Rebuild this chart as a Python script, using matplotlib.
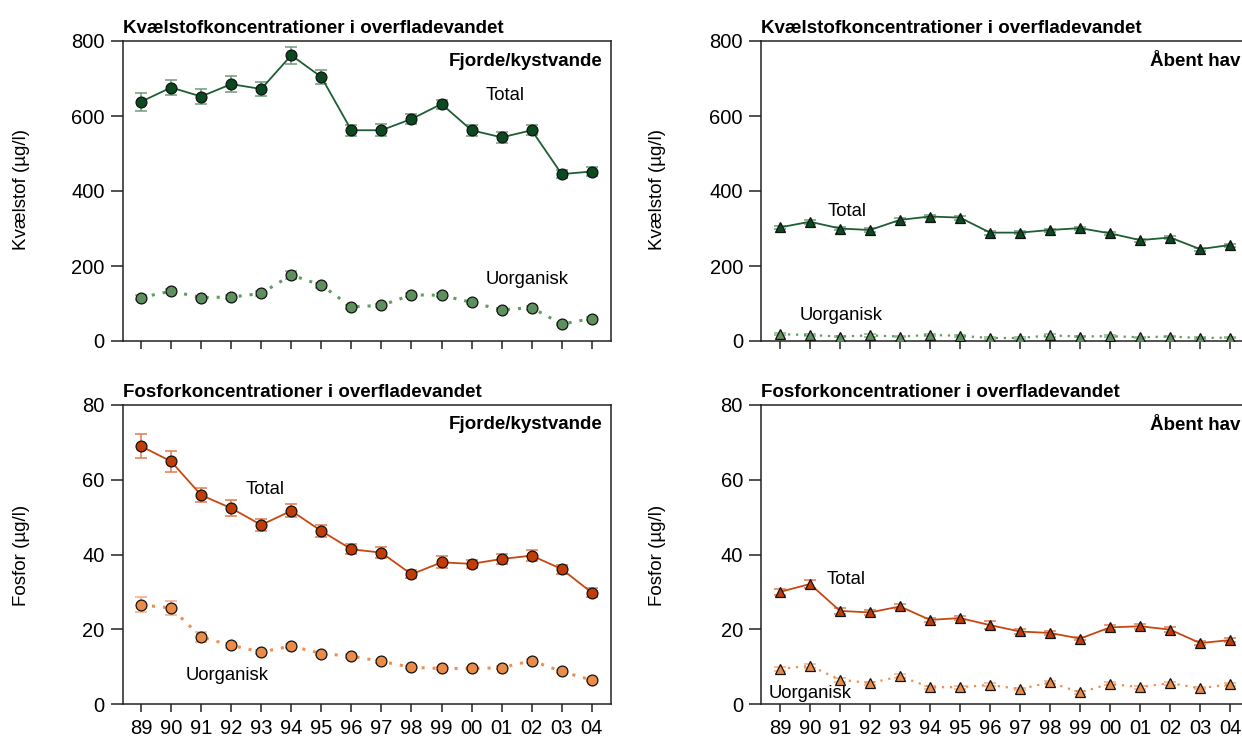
import matplotlib
matplotlib.use("Agg")
import matplotlib.pyplot as plt

plt.rcParams['font.family'] = ['Liberation Sans', 'DejaVu Sans']

years = ["89", "90", "91", "92", "93", "94", "95", "96", "97", "98", "99", "00", "01", "02", "03", "04"]

# Kvælstof, fjorde/kystvande (µg/l)
n_fjord_total = [638, 676, 652, 685, 672, 762, 704, 562, 562, 592, 632, 562, 543, 562, 445, 452]
n_fjord_total_err = [24, 21, 20, 21, 19, 23, 19, 14, 16, 13, 12, 14, 14, 13, 10, 12]
n_fjord_uorg = [116, 133, 116, 117, 127, 176, 149, 91, 95, 123, 122, 103, 83, 89, 45, 60]
n_fjord_uorg_err = [6, 6, 5, 5, 6, 11, 7, 5, 5, 5, 5, 5, 4, 5, 3, 4]

# Kvælstof, åbent hav (µg/l)
n_open_total = [303, 318, 300, 296, 323, 332, 329, 289, 289, 296, 301, 287, 269, 276, 245, 256]
n_open_total_err = [5, 5, 5, 5, 5, 5, 5, 5, 4, 4, 4, 4, 4, 4, 4, 4]
n_open_uorg = [18, 16, 12, 15, 12, 16, 14, 8, 8, 15, 12, 13, 10, 12, 8, 9]
n_open_uorg_err = [3, 3, 2, 3, 2, 3, 2, 2, 2, 3, 2, 2, 2, 2, 2, 2]

# Fosfor, fjorde/kystvande (µg/l)
p_fjord_total = [69.0, 64.9, 55.9, 52.4, 47.9, 51.7, 46.3, 41.4, 40.5, 34.7, 37.9, 37.5, 38.8, 39.7, 36.1, 29.8]
p_fjord_total_err = [3.3, 2.9, 1.9, 2.1, 1.7, 1.7, 1.6, 1.3, 1.4, 1.1, 1.6, 1.1, 1.3, 1.4, 1.2, 1.3]
p_fjord_uorg = [26.5, 25.7, 17.9, 15.7, 13.9, 15.5, 13.5, 12.8, 11.4, 9.8, 9.5, 9.5, 9.7, 11.6, 8.7, 6.4]
p_fjord_uorg_err = [2.0, 1.9, 1.3, 0.6, 0.5, 0.6, 0.5, 0.5, 0.5, 0.4, 0.4, 0.4, 0.4, 0.5, 0.4, 0.3]

# Fosfor, åbent hav (µg/l)
p_open_total = [30.0, 32.1, 24.9, 24.5, 26.1, 22.5, 23.0, 21.1, 19.4, 19.0, 17.5, 20.5, 20.8, 19.9, 16.3, 17.1]
p_open_total_err = [0.8, 1.0, 0.7, 0.6, 0.7, 0.6, 0.6, 1.0, 0.6, 0.5, 0.5, 0.7, 0.6, 0.6, 0.5, 0.5]
p_open_uorg = [9.4, 10.2, 6.5, 5.6, 7.4, 4.5, 4.5, 5.1, 4.0, 5.8, 3.1, 5.4, 4.5, 5.6, 4.2, 5.3]
p_open_uorg_err = [0.6, 0.6, 0.5, 0.4, 0.5, 0.4, 0.4, 0.4, 0.3, 0.4, 0.3, 0.4, 0.4, 0.4, 0.3, 0.4]

GREEN_DARK = "#0b4a20"
GREEN_LINE = "#1d5e33"
GREEN_ERR = "#6f9a7c"
GREEN_LIGHT = "#5e8f5e"
GREEN_LIGHT_LINE = "#5f9e5f"
GREEN_LIGHT_ERR = "#8ab58a"
RED_DARK = "#c13c06"
RED_LINE = "#c8470f"
RED_ERR = "#e07a50"
ORANGE = "#ea8b47"
ORANGE_LINE = "#ee8f4f"
ORANGE_ERR = "#f2ad85"

W, H = 1242, 738
fig = plt.figure(figsize=(W / 100, H / 100), dpi=100)


def px_axes(left, top, right, bottom):
    return fig.add_axes([left / W, 1 - bottom / H, (right - left) / W, (bottom - top) / H])


ax_nl = px_axes(122.7, 41, 611, 341)
ax_nr = px_axes(761, 41, 1246, 341)
ax_pl = px_axes(122.7, 405, 611, 704)
ax_pr = px_axes(761, 405, 1246, 704)

x = list(range(len(years)))


def series(ax, vals, errs, marker, face, line, err, ls, lw, ms):
    ax.errorbar(x, vals, yerr=errs, fmt='none', ecolor=err, elinewidth=1.1,
                capsize=4.5, capthick=1.1, zorder=2)
    ax.plot(x, vals, linestyle=ls, color=line, linewidth=lw, zorder=3)
    ax.plot(x, vals, linestyle='none', marker=marker, markersize=ms,
            markerfacecolor=face, markeredgecolor='#111111', markeredgewidth=0.9, zorder=4)


def style(ax, ymax, ystep, xlim, show_xlabels):
    ax.set_ylim(0, ymax)
    ax.set_xlim(*xlim)
    ax.set_yticks(range(0, ymax + 1, ystep))
    ax.set_xticks(x)
    if show_xlabels:
        ax.set_xticklabels(years)
    else:
        ax.set_xticklabels([])
    for s in ax.spines.values():
        s.set_linewidth(1.1)
        s.set_color('#222222')
    ax.tick_params(axis='y', direction='out', length=9, width=1.1, pad=4,
                   labelsize=14.5, color='#222222')
    ax.tick_params(axis='x', direction='out', length=6, width=1.1, pad=5,
                   labelsize=14.5, color='#222222')


DOT = (0, (1, 2.6))

# Kvælstof, fjorde/kystvande
series(ax_nl, n_fjord_total, n_fjord_total_err, 'o', GREEN_DARK, GREEN_LINE, GREEN_ERR, '-', 1.3, 7.8)
series(ax_nl, n_fjord_uorg, n_fjord_uorg_err, 'o', GREEN_LIGHT, GREEN_LIGHT_LINE, GREEN_LIGHT_ERR, DOT, 2.2, 7.8)
style(ax_nl, 800, 200, (-0.61, 15.64), False)

# Kvælstof, åbent hav
series(ax_nr, n_open_total, n_open_total_err, '^', GREEN_DARK, GREEN_LINE, GREEN_ERR, '-', 1.3, 7)
series(ax_nr, n_open_uorg, n_open_uorg_err, '^', GREEN_LIGHT, GREEN_LIGHT_LINE, GREEN_LIGHT_ERR, DOT, 1.6, 7)
style(ax_nr, 800, 200, (-0.633, 15.53), False)

# Fosfor, fjorde/kystvande
series(ax_pl, p_fjord_total, p_fjord_total_err, 'o', RED_DARK, RED_LINE, RED_ERR, '-', 1.3, 7.8)
series(ax_pl, p_fjord_uorg, p_fjord_uorg_err, 'o', ORANGE, ORANGE_LINE, ORANGE_ERR, DOT, 2.2, 7.8)
style(ax_pl, 80, 20, (-0.61, 15.64), True)

# Fosfor, åbent hav
series(ax_pr, p_open_total, p_open_total_err, '^', RED_DARK, RED_LINE, RED_ERR, '-', 1.3, 7)
series(ax_pr, p_open_uorg, p_open_uorg_err, '^', ORANGE, ORANGE_LINE, ORANGE_ERR, DOT, 1.6, 7)
style(ax_pr, 80, 20, (-0.633, 15.53), True)

# Panel titles
for ax, title in [(ax_nl, "Kvælstofkoncentrationer i overfladevandet"),
                  (ax_nr, "Kvælstofkoncentrationer i overfladevandet"),
                  (ax_pl, "Fosforkoncentrationer i overfladevandet"),
                  (ax_pr, "Fosforkoncentrationer i overfladevandet")]:
    ax.text(0.0, 1.012, title, transform=ax.transAxes, ha='left', va='bottom',
            fontsize=13.5, fontweight='bold')

# Area labels
ax_nl.text(0.982, 0.93, "Fjorde/kystvande", transform=ax_nl.transAxes, ha='right',
           va='center', fontsize=13.5, fontweight='bold')
ax_pl.text(0.982, 0.936, "Fjorde/kystvande", transform=ax_pl.transAxes, ha='right',
           va='center', fontsize=13.5, fontweight='bold')
ax_nr.text(15.33, 744, "Åbent hav", ha='right', va='center', fontsize=13.5, fontweight='bold')
ax_pr.text(15.33, 74.5, "Åbent hav", ha='right', va='center', fontsize=13.5, fontweight='bold')

# Series labels
LBL = 13.3
ax_nl.text(11.48, 656, "Total", ha='left', va='center', fontsize=LBL)
ax_nl.text(11.48, 163, "Uorganisk", ha='left', va='center', fontsize=LBL)
ax_nr.text(1.6, 344, "Total", ha='left', va='center', fontsize=LBL)
ax_nr.text(0.67, 67, "Uorganisk", ha='left', va='center', fontsize=LBL)
ax_pl.text(3.48, 57.5, "Total", ha='left', va='center', fontsize=LBL)
ax_pl.text(1.5, 7.6, "Uorganisk", ha='left', va='center', fontsize=LBL)
ax_pr.text(1.56, 33.3, "Total", ha='left', va='center', fontsize=LBL)
ax_pr.text(-0.37, 2.9, "Uorganisk", ha='left', va='center', fontsize=LBL)

# Y axis labels
fig.text(22 / W, 1 - 190 / H, "Kvælstof (µg/l)", rotation=90, ha='center', va='center', fontsize=13.5)
fig.text(657 / W, 1 - 190 / H, "Kvælstof (µg/l)", rotation=90, ha='center', va='center', fontsize=13.5)
fig.text(22 / W, 1 - 555 / H, "Fosfor (µg/l)", rotation=90, ha='center', va='center', fontsize=13.5)
fig.text(657 / W, 1 - 555 / H, "Fosfor (µg/l)", rotation=90, ha='center', va='center', fontsize=13.5)

fig.savefig("out.png", dpi=100)
